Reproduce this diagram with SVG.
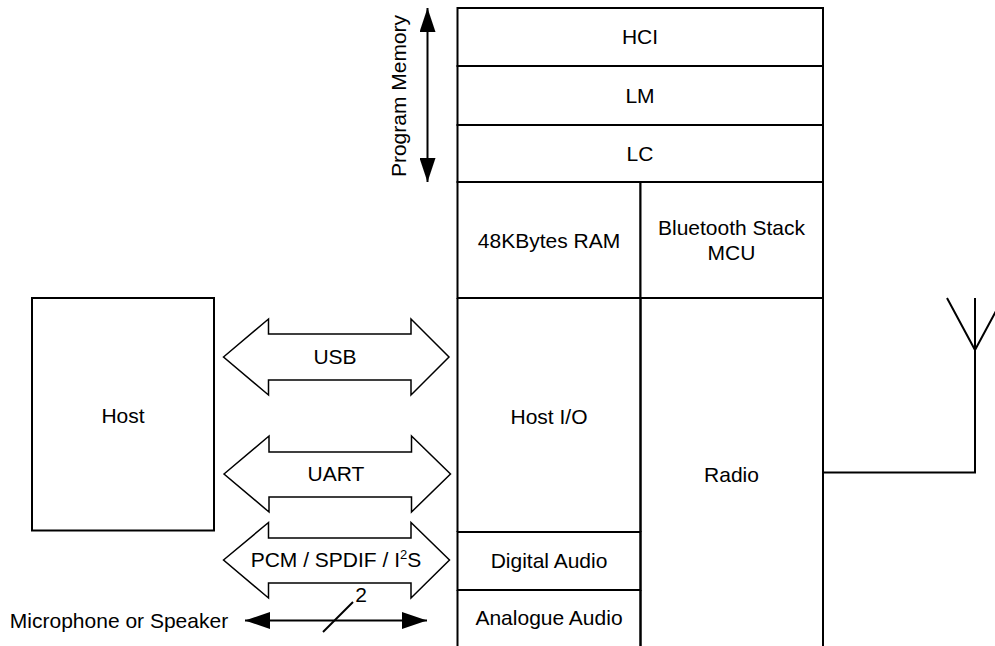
<svg xmlns="http://www.w3.org/2000/svg" width="995" height="646" viewBox="0 0 995 646">
<defs>
<style>
.ln{stroke:#000;stroke-width:2;fill:none}
.bx{stroke:#000;stroke-width:2;fill:#fff}
.ba{stroke:#000;stroke-width:1.5;fill:#fff;stroke-linejoin:miter}
text{font-family:"Liberation Sans",Arial,sans-serif;font-size:21px;fill:#000;text-anchor:middle}
</style>
<marker id="ah" viewBox="0 0 24 16" refX="24" refY="8" markerWidth="24" markerHeight="16" markerUnits="userSpaceOnUse" orient="auto-start-reverse">
<path d="M0,0 L24,8 L0,16 Z" fill="#000"/>
</marker>
<marker id="ah2" viewBox="0 0 25 17" refX="25" refY="8.5" markerWidth="25" markerHeight="17" markerUnits="userSpaceOnUse" orient="auto-start-reverse">
<path d="M0,0 L25,8.5 L0,17 Z" fill="#000"/>
</marker>
</defs>
<rect width="995" height="646" fill="#fff"/>

<g id="hci"><rect class="bx" x="457.5" y="8" width="365.5" height="58"/><text x="640" y="44">HCI</text></g>
<g id="lm"><rect class="bx" x="457.5" y="66" width="365.5" height="59"/><text x="640" y="103">LM</text></g>
<g id="lc"><rect class="bx" x="457.5" y="125" width="365.5" height="57"/><text x="640" y="161">LC</text></g>
<g id="ram"><rect class="bx" x="457.5" y="182" width="183" height="116"/><text x="549" y="248">48KBytes RAM</text></g>
<g id="mcu"><rect class="bx" x="640.5" y="182" width="182.5" height="116"/><text x="731.5" y="235">Bluetooth Stack</text><text x="731.5" y="260">MCU</text></g>
<g id="hostio"><path class="ln" d="M457.5,298 V532 M640.5,298 V532 M457.5,298 H640.5"/><text x="549" y="424">Host I/O</text></g>
<g id="digital"><rect class="bx" x="457.5" y="532" width="183" height="58"/><text x="549" y="568">Digital Audio</text></g>
<g id="analogue"><path class="ln" d="M457.5,590 V646 M640.5,590 V646 M457.5,590 H640.5"/><text x="549" y="625">Analogue Audio</text></g>
<g id="radio"><path class="ln" d="M640.5,298 V646 M823,298 V646 M640.5,298 H823"/><text x="731.5" y="482">Radio</text></g>
<g id="host"><rect class="bx" x="32" y="298" width="182" height="232.5"/><text x="123" y="423">Host</text></g>

<g id="connectors">
<path class="ln" d="M823,472.5 H975 V298 M975,350 L947,298 M975,350 L1003,298"/>
<line class="ln" x1="427.5" y1="8" x2="427.5" y2="182" stroke-width="1.5" marker-start="url(#ah)" marker-end="url(#ah)"/>
<g transform="translate(406,96) rotate(-90)"><text x="0" y="0">Program Memory</text></g>
<polygon class="ba" points="223.5,357 268.5,319 268.5,334 411,334 411,319 449,357 411,395 411,380 268.5,380 268.5,395"/>
<text x="335" y="364">USB</text>
<polygon class="ba" points="224,474 269,436 269,452 411.5,452 411.5,436 450.5,474 411.5,512 411.5,497 269,497 269,512"/>
<text x="336" y="481">UART</text>
<polygon class="ba" points="223.5,560 268.5,522.5 268.5,538 411,538 411,522.5 449.5,560 411,598 411,583 268.5,583 268.5,598"/>
<text x="336" y="567">PCM / SPDIF / I<tspan font-size="13" dy="-8">2</tspan><tspan dy="8">S</tspan></text>
<line class="ln" x1="245" y1="620.5" x2="427" y2="620.5" stroke-width="1.5" marker-start="url(#ah2)" marker-end="url(#ah2)"/>
<line class="ln" x1="323" y1="632" x2="353" y2="602" stroke-width="1.5"/>
<text x="361" y="602">2</text>
<text x="119" y="628">Microphone or Speaker</text>
</g>
</svg>
